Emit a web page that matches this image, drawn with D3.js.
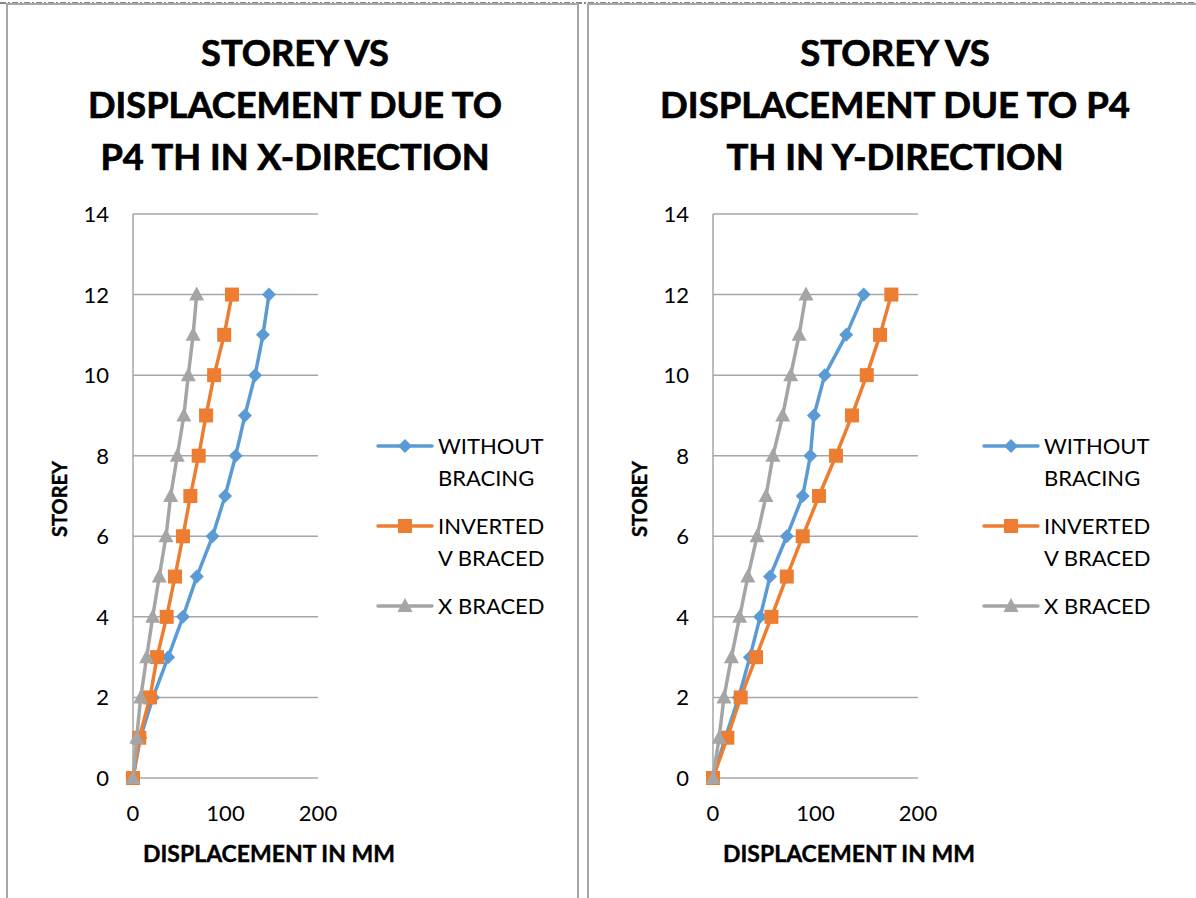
<!DOCTYPE html>
<html><head><meta charset="utf-8">
<script src="https://cdn.jsdelivr.net/npm/d3@7/dist/d3.min.js"></script>
<style>body{margin:0;background:#fff;}svg{display:block;}</style>
</head><body><svg id="c" width="1196" height="898"></svg>
<script>
const storeys = [0,1,2,3,4,5,6,7,8,9,10,11,12];
const yTicks = [0,2,4,6,8,10,12,14];
const xTicks = [0,100,200];
const seriesNames = ["WITHOUT BRACING","INVERTED V BRACED","X BRACED"];
const legendLines = [["WITHOUT","BRACING"],["INVERTED","V BRACED"],["X BRACED"]];
const colors = ["#5B9BD5","#ED7D31","#A5A5A5"];
const markers = ["diamond","square","triangle"];

// X-direction displacements (mm)
const xWithout = [0,8,21.6,38,54,69,86,99.5,111,121,132,140.5,147];
const xInvertedV = [0,6.8,18.4,26,36.4,45.4,54,62,71,79,87.7,98.6,107];
const xXBraced = [0,4,8.3,14.8,21.3,28.4,35.7,40.7,47.9,55,59.8,65,68.8];
// Y-direction displacements (mm)
const yWithout = [0,12,25,36,46,55.6,72,87.5,95,98.5,109,130,147];
const yInvertedV = [0,14,27,42,57,72,87.5,103.4,120,135.6,150,163,174];
const yXBraced = [0,6,10.7,18,26,34,43,51.7,58.5,68,75.8,84,90.7];

const titleX = ["STOREY VS","DISPLACEMENT DUE TO","P4 TH IN X-DIRECTION"];
const titleY = ["STOREY VS","DISPLACEMENT DUE TO P4","TH IN Y-DIRECTION"];

const svg = d3.select("#c");
const FONT = "Lato, 'Open Sans', sans-serif";

function fit(sel, target){
  const L = sel.node().getComputedTextLength();
  const fs = parseFloat(sel.attr("font-size"));
  sel.attr("font-size", fs*target/L);
  return fs*target/L;
}

// frames
svg.append("line").attr("x1",0).attr("x2",1196).attr("y1",3).attr("y2",3)
  .attr("stroke","#5a6270").attr("stroke-width",1.5).attr("stroke-dasharray","6,2,2,2");
svg.append("rect").attr("x",7).attr("y",4).attr("width",571).attr("height",910)
  .attr("fill","none").attr("stroke","#a6a6a6").attr("stroke-width",2);
svg.append("rect").attr("x",588).attr("y",4).attr("width",640).attr("height",910)
  .attr("fill","none").attr("stroke","#a6a6a6").attr("stroke-width",2);

function marker(g, type, x, y, color){
  if(type==="diamond"){
    g.append("path").attr("d",`M${x},${y-7}L${x+7},${y}L${x},${y+7}L${x-7},${y}Z`).attr("fill",color);
  } else if(type==="square"){
    g.append("rect").attr("x",x-7).attr("y",y-7).attr("width",14).attr("height",14).attr("fill",color);
  } else {
    g.append("path").attr("d",`M${x},${y-8}L${x+7.5},${y+6}L${x-7.5},${y+6}Z`).attr("fill",color);
  }
}

function chart(opt){
  const g = svg.append("g");
  const x = d3.scaleLinear().domain([0,200]).range([opt.x0,opt.x1]);
  const y = d3.scaleLinear().domain([0,14]).range([778,214]);
  // title
  const tl = opt.title.map((t,i)=> g.append("text").attr("x",opt.tcx).attr("y",66+i*52).attr("text-anchor","middle")
      .attr("font-family",FONT).attr("font-weight","bold").attr("font-size",34).attr("fill","#000")
      .attr("stroke","#000").attr("stroke-width",0.7).text(t));
  const fs = fit(tl[1], opt.tw);
  tl.forEach(s=>s.attr("font-size",fs));
  // gridlines
  g.selectAll(".grid").data(yTicks).enter().append("line")
    .attr("x1",x(0)).attr("x2",x(200)).attr("y1",d=>y(d)).attr("y2",d=>y(d))
    .attr("stroke","#a6a6a6").attr("stroke-width",1.5);
  g.append("line").attr("x1",x(0)).attr("x2",x(0)).attr("y1",y(14)).attr("y2",y(0))
    .attr("stroke","#a6a6a6").attr("stroke-width",1.5);
  // y tick labels
  g.selectAll(".yt").data(yTicks).enter().append("text")
    .attr("x",x(0)-24).attr("y",d=>y(d)+8).attr("text-anchor","end")
    .attr("font-family",FONT).attr("font-size",22).attr("fill","#000").text(d=>d);
  // x tick labels
  g.selectAll(".xt").data(xTicks).enter().append("text")
    .attr("x",d=>x(d)).attr("y",821).attr("text-anchor","middle")
    .attr("font-family",FONT).attr("font-size",22).attr("fill","#000").text(d=>d);
  // axis titles
  const xt = g.append("text").attr("x",opt.xtcx).attr("y",862).attr("text-anchor","middle")
    .attr("font-family",FONT).attr("font-weight","bold").attr("font-size",18)
    .attr("stroke","#000").attr("stroke-width",0.4).text("DISPLACEMENT IN MM");
  fit(xt, 252);
  const yt = g.append("text").attr("transform",`translate(${x(0)-66},499) rotate(-90)`).attr("text-anchor","middle")
    .attr("font-family",FONT).attr("font-weight","bold").attr("font-size",18)
    .attr("stroke","#000").attr("stroke-width",0.4).text("STOREY");
  fit(yt, 76);
  // series
  const line = d3.line().x(d=>x(d[0])).y(d=>y(d[1]));
  opt.series.forEach((vals,i)=>{
    const pts = vals.map((v,k)=>[v,storeys[k]]);
    g.append("path").attr("d",line(pts)).attr("fill","none").attr("stroke",colors[i])
      .attr("stroke-width",3.5).attr("stroke-linejoin","round").attr("stroke-linecap","round");
    pts.forEach(p=>marker(g,markers[i],x(p[0]),y(p[1]),colors[i]));
  });
  // legend
  const lyy = [446,526,606];
  legendLines.forEach((lines,i)=>{
    const lx = opt.lx;
    g.append("line").attr("x1",lx).attr("x2",lx+54).attr("y1",lyy[i]).attr("y2",lyy[i])
      .attr("stroke",colors[i]).attr("stroke-width",3.5).attr("stroke-linecap","round");
    marker(g,markers[i],lx+27,lyy[i],colors[i]);
    lines.forEach((t,j)=>{
      g.append("text").attr("x",lx+60).attr("y",lyy[i]+8+j*32)
        .attr("font-family",FONT).attr("font-size",22).attr("fill","#000").text(t);
    });
  });
}

chart({x0:133,x1:318,tcx:295,tw:414,xtcx:269,title:titleX,series:[xWithout,xInvertedV,xXBraced],lx:378});
chart({x0:713,x1:918,tcx:895,tw:470,xtcx:849,title:titleY,series:[yWithout,yInvertedV,yXBraced],lx:984});
</script></body></html>
